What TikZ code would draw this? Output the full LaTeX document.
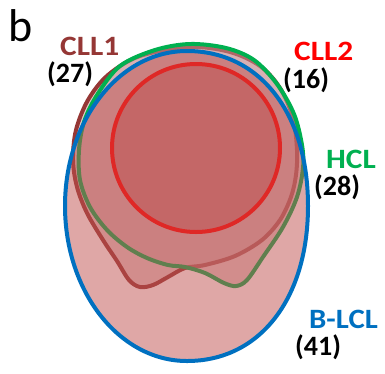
\documentclass[tikz,border=0pt]{standalone}
\usepackage{fontspec}
\usepackage{graphicx}
\setmainfont{Carlito}
\begin{document}
\begin{tikzpicture}[x=1pt,y=-1pt,
  lbl/.style={anchor=base west,inner sep=0pt,font=\bfseries\fontsize{28}{28}\selectfont},
  shapeline/.style={line width=4pt,line join=round}]
\definecolor{bluec}{HTML}{0070C0}
\definecolor{greenc}{HTML}{00B050}
\definecolor{brownc}{HTML}{953735}
\definecolor{redc}{HTML}{FF0000}
\definecolor{overc}{HTML}{C0504D}
\definecolor{fillD}{HTML}{CB969A}
\definecolor{fillE}{HTML}{B85053}
\useasboundingbox (0,0) rectangle (385,373);
\def\blueshape{(187,51) .. controls (259.6,51) and (308,113) .. (308,206)
  .. controls (308,299) and (259.6,361) .. (187,361)
  .. controls (119.3,361) and (65,291.6) .. (65,206)
  .. controls (65,120.4) and (119.3,51) .. (187,51) -- cycle}
% CLL1 (brown)
\path[shapeline,fill=fillD,fill opacity=0.5,draw=brownc]
  plot[smooth cycle,tension=0.55] coordinates {
  (190,47) (230,52) (260,66) (280,88) (293,118) (297,150) (296,175) (291,197)
  (280,220) (262,240) (235,256) (205,265) (185,268) (168,277) (153,285) (140,287)
  (129,280) (117,261) (103,240) (87,213) (77,187) (73,160) (76,130) (88,100)
  (108,75) (140,56)};
% HCL (green)
\path[shapeline,fill=fillD,fill opacity=0.5,draw=greenc]
  plot[smooth cycle,tension=0.55] coordinates {
  (190,44) (226,48) (254,60) (277,84) (294,114) (302,145) (303,168) (297,197)
  (283,227) (263,257) (247,280) (236,286) (224,283) (205,273) (185,267) (168,265)
  (147,258) (127,247) (107,230) (90,207) (80,180) (79,150) (84,122) (97,95)
  (120,66) (155,50)};
% CLL2 (red)
\path[shapeline,fill=fillE,fill opacity=0.5,draw=redc] (196,148) circle[radius=84];
% B-LCL overlay fill and outline
\path[fill=overc,fill opacity=0.5] \blueshape;
\path[shapeline,draw=bluec] \blueshape;
% labels
\node[anchor=base west,inner sep=0pt,font=\fontsize{46}{46}\selectfont] (b) at (8.5,41.5) {b};
\node[lbl,text=brownc] (cll1) at (60,55) {\scalebox{1.12}[1]{CLL1}};
\node[lbl] (n27) at (47,82) {(27)};
\node[lbl,text=redc] (cll2) at (294,60) {\scalebox{1.12}[1]{CLL2}};
\node[lbl] (n16) at (283,88) {(16)};
\node[lbl,text=greenc] (hcl) at (326,168) {\scalebox{1.12}[1]{HCL}};
\node[lbl] (n28) at (314,195) {(28)};
\node[lbl,text=bluec] (blcl) at (309,328) {\scalebox{1.1}[1]{B-LCL}};
\node[lbl] (n41) at (295,355) {(41)};
\end{tikzpicture}
\end{document}
